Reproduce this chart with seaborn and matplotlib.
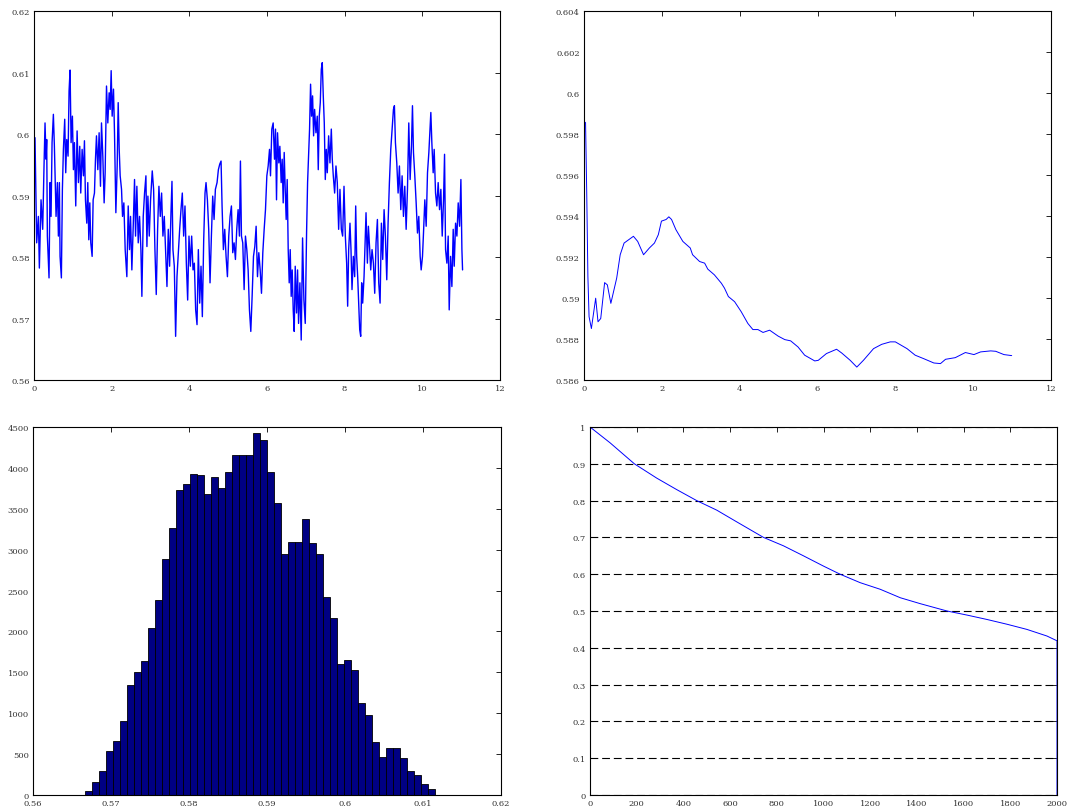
import numpy as np
import pandas as pd
import matplotlib
matplotlib.use("Agg")
import matplotlib.pyplot as plt
import seaborn as sns

# ---------------- data ----------------
# top-left: raw sampled series (time, value)
sim_t = [0.000, 0.026, 0.069, 0.112, 0.138, 0.181, 0.224, 0.258, 0.284, 0.310, 0.327, 0.344, 0.387, 0.413, 0.439, 0.465,
         0.499, 0.525, 0.551, 0.568, 0.602, 0.628, 0.654, 0.671, 0.705, 0.731, 0.757, 0.791, 0.817, 0.843, 0.877, 0.903,
         0.929, 0.955, 0.989, 1.015, 1.041, 1.075, 1.110, 1.144, 1.178, 1.204, 1.239, 1.273, 1.299, 1.325, 1.359, 1.385,
         1.411, 1.437, 1.462, 1.497, 1.523, 1.557, 1.583, 1.609, 1.643, 1.677, 1.712, 1.738, 1.772, 1.806, 1.832, 1.867,
         1.901, 1.935, 1.961, 1.987, 2.013, 2.047, 2.073, 2.108, 2.142, 2.168, 2.194, 2.219, 2.254, 2.280, 2.314, 2.348,
         2.391, 2.426, 2.460, 2.486, 2.520, 2.555, 2.589, 2.615, 2.649, 2.684, 2.718, 2.753, 2.778, 2.813, 2.847, 2.882,
         2.908, 2.933, 2.968, 3.002, 3.045, 3.080, 3.114, 3.148, 3.183, 3.217, 3.252, 3.286, 3.320, 3.355, 3.389, 3.424,
         3.458, 3.492, 3.527, 3.553, 3.578, 3.613, 3.647, 3.682, 3.716, 3.751, 3.785, 3.819, 3.854, 3.888, 3.923, 3.957,
         3.991, 4.026, 4.060, 4.095, 4.129, 4.163, 4.198, 4.232, 4.267, 4.301, 4.335, 4.370, 4.404, 4.430, 4.465, 4.499,
         4.533, 4.568, 4.602, 4.637, 4.671, 4.714, 4.748, 4.783, 4.817, 4.843, 4.877, 4.912, 4.946, 4.981, 5.015, 5.049,
         5.084, 5.118, 5.153, 5.187, 5.221, 5.256, 5.290, 5.316, 5.342, 5.376, 5.411, 5.445, 5.480, 5.514, 5.548, 5.583,
         5.617, 5.652, 5.686, 5.720, 5.755, 5.789, 5.824, 5.858, 5.892, 5.927, 5.961, 5.996, 6.030, 6.065,
         6.090, 6.124, 6.159, 6.193, 6.219, 6.245, 6.271, 6.305, 6.331, 6.365, 6.391, 6.417, 6.443, 6.469, 6.494, 6.520,
         6.546, 6.572, 6.598, 6.623, 6.649, 6.675, 6.701, 6.727, 6.761, 6.787, 6.813, 6.847, 6.881, 6.916, 6.950, 6.985,
         7.019, 7.045, 7.071, 7.096, 7.122, 7.148, 7.174, 7.200, 7.226, 7.260, 7.294, 7.320, 7.346, 7.372, 7.398, 7.423,
         7.449, 7.475, 7.501, 7.527, 7.552, 7.587, 7.621, 7.656, 7.681, 7.707, 7.742, 7.776, 7.810, 7.845, 7.879, 7.914,
         7.948, 7.983, 8.017, 8.051, 8.077, 8.103, 8.137, 8.163, 8.189, 8.223, 8.258, 8.284, 8.309, 8.335, 8.361, 8.387,
         8.413, 8.438, 8.464, 8.499, 8.524, 8.550, 8.585, 8.611, 8.645, 8.671, 8.705, 8.740, 8.774, 8.808, 8.843, 8.877,
         8.912, 8.946, 8.980, 9.015, 9.049, 9.084, 9.118, 9.152, 9.187, 9.221, 9.256, 9.281, 9.307, 9.342, 9.376, 9.410,
         9.445, 9.479, 9.514, 9.548, 9.583, 9.617, 9.651, 9.686, 9.720, 9.746, 9.772, 9.806, 9.841, 9.875, 9.909, 9.944,
         9.970, 10.004, 10.030, 10.064, 10.099, 10.133, 10.168, 10.193, 10.219, 10.245, 10.279, 10.305, 10.340, 10.374,
         10.408, 10.443, 10.477, 10.512, 10.546, 10.572, 10.598, 10.632, 10.666, 10.692, 10.727, 10.761, 10.795, 10.821,
         10.856, 10.890, 10.924, 10.959, 10.993, 11.019, 11.036]
sim_v = [0.5930, 0.5994, 0.5823, 0.5866, 0.5782, 0.5893, 0.5845, 0.5948, 0.6018, 0.5959, 0.5991, 0.5834, 0.5766, 0.5921, 0.5866, 0.5986,
         0.6032, 0.5980, 0.5915, 0.5866, 0.5921, 0.5834, 0.5921, 0.5801, 0.5766, 0.5910, 0.5975, 0.6024, 0.5937, 0.5991, 0.5964, 0.6070,
         0.6104, 0.5986, 0.6029, 0.5942, 0.5986, 0.5883, 0.6005, 0.5921, 0.5980, 0.5904, 0.5975, 0.5932, 0.5989, 0.5893, 0.5855, 0.5921,
         0.5828, 0.5888, 0.5823, 0.5801, 0.5893, 0.5904, 0.5959, 0.5997, 0.5942, 0.6002, 0.5915, 0.6018, 0.5964, 0.5888, 0.5937, 0.6078,
         0.6018, 0.6067, 0.6040, 0.6103, 0.6029, 0.6073, 0.6002, 0.5872, 0.5948, 0.6051, 0.5975, 0.5932, 0.5910, 0.5866, 0.5888, 0.5812,
         0.5768, 0.5883, 0.5812, 0.5866, 0.5779, 0.5850, 0.5926, 0.5834, 0.5915, 0.5823, 0.5866, 0.5812, 0.5736, 0.5866, 0.5904, 0.5932,
         0.5817, 0.5899, 0.5834, 0.5893, 0.5940, 0.5910, 0.5812, 0.5739, 0.5845, 0.5915, 0.5866, 0.5904, 0.5834, 0.5866, 0.5812, 0.5752,
         0.5845, 0.5785, 0.5872, 0.5923, 0.5812, 0.5785, 0.5671, 0.5768, 0.5807, 0.5845, 0.5877, 0.5904, 0.5834, 0.5883, 0.5790, 0.5730,
         0.5834, 0.5785, 0.5834, 0.5779, 0.5790, 0.5714, 0.5690, 0.5812, 0.5725, 0.5785, 0.5703, 0.5828, 0.5904, 0.5921, 0.5893, 0.5845,
         0.5758, 0.5834, 0.5899, 0.5861, 0.5910, 0.5921, 0.5942, 0.5951, 0.5956, 0.5883, 0.5812, 0.5845, 0.5801, 0.5768, 0.5834, 0.5866,
         0.5883, 0.5807, 0.5823, 0.5796, 0.5845, 0.5877, 0.5834, 0.5956, 0.5834, 0.5823, 0.5747, 0.5834, 0.5812, 0.5779, 0.5714, 0.5679,
         0.5736, 0.5801, 0.5817, 0.5850, 0.5768, 0.5807, 0.5779, 0.5741, 0.5807, 0.5845, 0.5877, 0.5932, 0.5948, 0.5975,
         0.5932, 0.6008, 0.6018, 0.5959, 0.6008, 0.5893, 0.6002, 0.5953, 0.5980, 0.5921, 0.5959, 0.5888, 0.5970, 0.5910, 0.5861, 0.5926,
         0.5812, 0.5758, 0.5812, 0.5736, 0.5779, 0.5714, 0.5679, 0.5785, 0.5709, 0.5779, 0.5692, 0.5758, 0.5665, 0.5831, 0.5730, 0.5692,
         0.5839, 0.5921, 0.5964, 0.6008, 0.6081, 0.6029, 0.6062, 0.5997, 0.6040, 0.6002, 0.6029, 0.5942, 0.6029, 0.6051, 0.6105, 0.6116,
         0.6062, 0.6018, 0.5926, 0.5975, 0.5937, 0.5997, 0.5953, 0.6008, 0.5959, 0.5932, 0.5904, 0.5948, 0.5921, 0.5845, 0.5910, 0.5845,
         0.5834, 0.5915, 0.5834, 0.5790, 0.5720, 0.5812, 0.5855, 0.5812, 0.5747, 0.5801, 0.5768, 0.5883, 0.5801, 0.5768, 0.5725, 0.5682,
         0.5671, 0.5758, 0.5725, 0.5768, 0.5817, 0.5872, 0.5790, 0.5850, 0.5812, 0.5779, 0.5812, 0.5790, 0.5741, 0.5823, 0.5861, 0.5758,
         0.5725, 0.5855, 0.5796, 0.5877, 0.5834, 0.5763, 0.5855, 0.5921, 0.5975, 0.6008, 0.6040, 0.6046, 0.5986, 0.5953, 0.5904, 0.5948,
         0.5877, 0.5932, 0.5866, 0.5915, 0.5845, 0.5910, 0.6018, 0.5926, 0.5980, 0.6046, 0.5970, 0.5932, 0.5888, 0.5839, 0.5866, 0.5801,
         0.5779, 0.5801, 0.5839, 0.5893, 0.5850, 0.5937, 0.5970, 0.6002, 0.6035, 0.5986, 0.5937, 0.5975, 0.5904, 0.5883,
         0.5921, 0.5877, 0.5910, 0.5834, 0.5893, 0.5967, 0.5812, 0.5790, 0.5834, 0.5714, 0.5801, 0.5752, 0.5845, 0.5785,
         0.5855, 0.5834, 0.5888, 0.5850, 0.5926, 0.5812, 0.5779]

# top-right: running mean (time, value)
mean_t = [0.04, 0.07, 0.10, 0.13, 0.19, 0.30, 0.36, 0.43, 0.53, 0.60, 0.69, 0.84, 0.93, 1.03, 1.27, 1.38, 1.53, 1.68,
          1.81, 1.91, 1.99, 2.11, 2.18, 2.25, 2.36, 2.54, 2.73, 2.79, 2.97, 3.10, 3.18, 3.35, 3.53, 3.61, 3.71, 3.87,
          4.04, 4.21, 4.34, 4.47, 4.60, 4.77, 4.99, 5.16, 5.31, 5.50, 5.67, 5.93, 6.02, 6.23, 6.49, 6.62, 6.84, 7.01,
          7.18, 7.44, 7.65, 7.87, 8.00, 8.30, 8.51, 8.73, 8.99, 9.16, 9.29, 9.54, 9.80, 10.02, 10.19, 10.45, 10.58,
          10.79, 10.99]
mean_v = [0.59857, 0.59514, 0.59105, 0.58909, 0.58851, 0.58999, 0.58884, 0.58900, 0.59075, 0.59064, 0.58974, 0.59097,
          0.59211, 0.59268, 0.59301, 0.59276, 0.59211, 0.59244, 0.59268, 0.59309, 0.59375, 0.59383, 0.59396, 0.59383,
          0.59334, 0.59276, 0.59244, 0.59211, 0.59178, 0.59170, 0.59141, 0.59113, 0.59072, 0.59048, 0.59007, 0.58982,
          0.58933, 0.58876, 0.58846, 0.58846, 0.58832, 0.58843, 0.58814, 0.58797, 0.58791, 0.58761, 0.58721, 0.58693,
          0.58696, 0.58729, 0.58750, 0.58732, 0.58696, 0.58663, 0.58696, 0.58753, 0.58774, 0.58786, 0.58786, 0.58753,
          0.58721, 0.58704, 0.58683, 0.58680, 0.58701, 0.58709, 0.58734, 0.58724, 0.58737, 0.58742, 0.58740, 0.58724,
          0.58719]

# bottom-left: histogram (50 bins)
hist_lo, hist_hi, hist_nbins = 0.5667, 0.6116, 50
hist_counts = [50, 160, 290, 540, 660, 900, 1340, 1500, 1640, 2040, 2390, 2880, 3270, 3730, 3800, 3930, 3910,
               3680, 3890, 3750, 3950, 4160, 4160, 4160, 4430, 4340, 3950, 3570, 2950, 3090, 3090, 3380, 3080,
               2950, 2420, 2160, 1600, 1650, 1530, 1130, 980, 650, 460, 580, 570, 450, 290, 250, 130, 70]

# bottom-right: decay curve
acf_x = [0, 86, 190, 286, 371, 457, 543, 629, 743, 829, 914, 1000, 1071, 1157, 1243, 1329, 1414, 1529,
         1614, 1700, 1786, 1871, 1957, 2000, 2000]
acf_y = [1.0, 0.957, 0.900, 0.861, 0.830, 0.800, 0.774, 0.742, 0.700, 0.677, 0.650, 0.622, 0.600, 0.577,
         0.559, 0.536, 0.520, 0.500, 0.489, 0.477, 0.464, 0.450, 0.432, 0.419, 0.0]

# ticks / labels
t_ticks = [0, 2, 4, 6, 8, 10, 12]
t_labels = ["0", "2", "4", "6", "8", "10", "12"]
tl_yticks = [0.56, 0.57, 0.58, 0.59, 0.60, 0.61, 0.62]
tl_ylabels = ["0.56", "0.57", "0.58", "0.59", "0.6", "0.61", "0.62"]
tr_yticks = [0.586, 0.588, 0.590, 0.592, 0.594, 0.596, 0.598, 0.600, 0.602, 0.604]
tr_ylabels = ["0.586", "0.588", "0.59", "0.592", "0.594", "0.596", "0.598", "0.6", "0.602", "0.604"]
h_xticks = tl_yticks
h_xlabels = tl_ylabels
h_yticks = [0, 500, 1000, 1500, 2000, 2500, 3000, 3500, 4000, 4500]
h_ylabels = ["0", "500", "1000", "1500", "2000", "2500", "3000", "3500", "4000", "4500"]
a_xticks = [0, 200, 400, 600, 800, 1000, 1200, 1400, 1600, 1800, 2000]
a_xlabels = [str(v) for v in a_xticks]
a_yticks = [0, 0.1, 0.2, 0.3, 0.4, 0.5, 0.6, 0.7, 0.8, 0.9, 1.0]
a_ylabels = ["0", "0.1", "0.2", "0.3", "0.4", "0.5", "0.6", "0.7", "0.8", "0.9", "1"]

# ---------------- style ----------------
sns.set_style("white")
plt.rcParams["font.family"] = ["DejaVu Serif"]
plt.rcParams["font.size"] = 6

W, H = 1069, 812
fig = plt.figure(figsize=(W / 100, H / 100), dpi=100)
fig.patch.set_facecolor("white")


def px_axes(l, t, r, b):
    return fig.add_axes([l / W, 1 - b / H, (r - l) / W, (b - t) / H])


def style(ax, xt, xl, yt, yl, xlim, ylim):
    ax.set_xlim(*xlim)
    ax.set_ylim(*ylim)
    ax.set_xticks(xt)
    ax.set_xticklabels(xl)
    ax.set_yticks(yt)
    ax.set_yticklabels(yl)
    ax.tick_params(direction="in", top=True, right=True, length=3.6, width=0.6,
                   labelsize=6, colors="black", labelcolor="#333333", pad=3)
    for s in ax.spines.values():
        s.set_visible(True)
        s.set_color("black")
        s.set_linewidth(0.8)
    ax.set_xlabel("")
    ax.set_ylabel("")
    ax.set_facecolor("white")


ax1 = px_axes(34, 12, 500, 381)
sns.lineplot(x=sim_t, y=sim_v, ax=ax1, color="#0000ff", linewidth=1.0, estimator=None, sort=False)
style(ax1, t_ticks, t_labels, tl_yticks, tl_ylabels, (0, 12), (0.56, 0.62))

ax2 = px_axes(584, 12, 1051, 381)
sns.lineplot(x=mean_t, y=mean_v, ax=ax2, color="#0000ff", linewidth=0.7, estimator=None, sort=False)
style(ax2, t_ticks, t_labels, tr_yticks, tr_ylabels, (0, 12), (0.586, 0.604))

ax3 = px_axes(33, 428, 501, 796)
bin_w = (hist_hi - hist_lo) / hist_nbins
hist_df = pd.DataFrame({
    "center": [hist_lo + (i + 0.5) * bin_w for i in range(hist_nbins)],
    "count": hist_counts,
})
sns.histplot(data=hist_df, x="center", weights="count", bins=hist_nbins,
             binrange=(hist_lo, hist_hi), ax=ax3, color="#000083",
             edgecolor="black", linewidth=0.6, alpha=1.0)
style(ax3, h_xticks, h_xlabels, h_yticks, h_ylabels, (0.56, 0.62), (0, 4500))

ax4 = px_axes(590, 428, 1057, 796)
sns.lineplot(x=acf_x, y=acf_y, ax=ax4, color="#0000ff", linewidth=0.7, estimator=None, sort=False)
style(ax4, a_xticks, a_xlabels, a_yticks, a_ylabels, (0, 2000), (0, 1))
ax4.set_axisbelow(True)
ax4.grid(axis="y", color="black", linestyle=(0, (7, 3.5)), linewidth=0.8)
ax4.grid(axis="x", visible=False)

fig.savefig("out.png", dpi=100, facecolor="white")
